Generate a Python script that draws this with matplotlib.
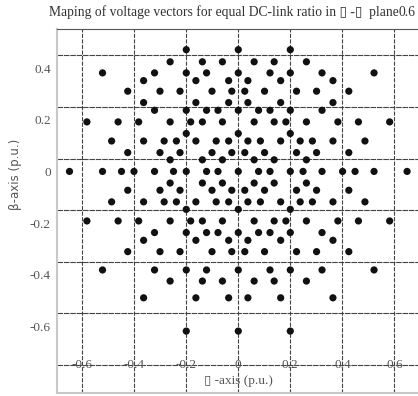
import matplotlib
matplotlib.use('Agg')
import matplotlib.pyplot as plt
import numpy as np

plt.rcParams['lines.scale_dashes'] = False

# beta level of each row of vectors (p.u.)
beta_levels = [0.472, 0.425, 0.382, 0.352, 0.311, 0.267, 0.237, 0.192, 0.147, 0.118, 0.073, 0.045, 0.0,
               -0.045, -0.073, -0.118, -0.147, -0.192, -0.237, -0.267, -0.311, -0.382, -0.425, -0.490, -0.619]

# alpha positions of the vectors on each row (p.u.)
alpha_rows = [
    [-0.200, 0.0, 0.200],
    [-0.262, -0.138, -0.061, 0.061, 0.138, 0.262],
    [-0.522, -0.322, -0.200, -0.122, 0.0, 0.122, 0.200, 0.322, 0.522],
    [-0.364, -0.163, -0.037, 0.037, 0.163, 0.364],
    [-0.425, -0.301, -0.224, -0.101, -0.025, 0.025, 0.101, 0.224, 0.301, 0.425],
    [-0.364, -0.163, -0.037, 0.037, 0.163, 0.364],
    [-0.322, -0.200, -0.122, -0.078, 0.0, 0.078, 0.122, 0.200, 0.322],
    [-0.582, -0.462, -0.383, -0.262, -0.183, -0.138, -0.061, 0.061, 0.138, 0.183, 0.262, 0.383, 0.462, 0.582],
    [-0.200, 0.0, 0.200],
    [-0.487, -0.364, -0.285, -0.238, -0.163, -0.085, -0.037, 0.037, 0.085, 0.163, 0.238, 0.285, 0.364, 0.487],
    [-0.425, -0.301, -0.224, -0.101, -0.025, 0.025, 0.101, 0.224, 0.301, 0.425],
    [-0.262, -0.138, -0.061, 0.061, 0.138, 0.262],
    [-0.649, -0.522, -0.449, -0.401, -0.322, -0.249, -0.200, -0.122, -0.078, 0.0,
     0.078, 0.122, 0.200, 0.249, 0.322, 0.401, 0.449, 0.522, 0.649],
    [-0.262, -0.138, -0.061, 0.061, 0.138, 0.262],
    [-0.425, -0.301, -0.224, -0.101, -0.025, 0.025, 0.101, 0.224, 0.301, 0.425],
    [-0.487, -0.364, -0.285, -0.238, -0.163, -0.085, -0.037, 0.037, 0.085, 0.163, 0.238, 0.285, 0.364, 0.487],
    [-0.200, 0.0, 0.200],
    [-0.582, -0.462, -0.383, -0.262, -0.183, -0.138, -0.061, 0.061, 0.138, 0.183, 0.262, 0.383, 0.462, 0.582],
    [-0.322, -0.200, -0.122, -0.078, 0.0, 0.078, 0.122, 0.200, 0.322],
    [-0.364, -0.163, -0.037, 0.037, 0.163, 0.364],
    [-0.425, -0.301, -0.224, -0.101, -0.025, 0.025, 0.101, 0.224, 0.301, 0.425],
    [-0.522, -0.322, -0.200, -0.122, 0.0, 0.122, 0.200, 0.322, 0.522],
    [-0.262, -0.138, -0.061, 0.061, 0.138, 0.262],
    [-0.364, -0.163, -0.037, 0.037, 0.163, 0.364],
    [-0.200, 0.0, 0.200],
]

x_ticks = [-0.6, -0.4, -0.2, 0, 0.2, 0.4, 0.6]
x_tick_labels = ['-0.6', '-0.4', '-0.2', '0', '0.2', '0.4', '0.6']
y_ticks = [0.4, 0.2, 0, -0.2, -0.4, -0.6]
y_tick_labels = ['0.4', '0.2', '0', '-0.2', '-0.4', '-0.6']
grid_y = [0.45, 0.25, 0.05, -0.15, -0.35, -0.55, -0.75]

alpha = []
beta = []
for b, row in zip(beta_levels, alpha_rows):
    for a in row:
        alpha.append(a)
        beta.append(b)

serif = ['Liberation Serif', 'DejaVu Sans']
txt_col = '#555555'

fig = plt.figure(figsize=(4.18, 3.96), dpi=100)
ax = fig.add_axes([57 / 418, 3 / 396, 361 / 418, 363.7 / 396])
ax.set_xlim(-0.697, 0.691)
ax.set_ylim(-0.859, 0.551)

# grid
for xv in x_ticks:
    ax.axvline(xv, color='#444444', lw=0.8, dashes=(3.0, 1.0), zorder=1)
for yv in grid_y:
    ax.axhline(yv, color='#444444', lw=0.8, dashes=(4.0, 0.6), zorder=1)

ax.scatter(alpha, beta, s=27, c='#111111', edgecolors='none', zorder=3)

ax.spines['right'].set_visible(False)
ax.spines['top'].set_color('#555555')
ax.spines['top'].set_linewidth(0.8)
ax.spines['left'].set_color('#c8c8c8')
ax.spines['left'].set_linewidth(1.5)
ax.spines['bottom'].set_color('#c8c8c8')
ax.spines['bottom'].set_linewidth(1.5)

ax.set_xticks([])
ax.set_yticks(y_ticks)
ax.set_yticklabels(y_tick_labels, family=serif, fontsize=9.5, color=txt_col)
ax.tick_params(axis='y', length=0, pad=4.5)

# x tick labels sit inside the box on the lowest grid line
for xv, lab in zip(x_ticks, x_tick_labels):
    ax.text(xv, -0.75, lab, ha='center', va='center', family=serif,
            fontsize=9.5, color=txt_col, zorder=2)

fig.text(238 / 418, 1 - 381 / 396, '\u25af -axis (p.u.)', ha='center', va='center',
         family=serif, fontsize=9.5, color=txt_col)
fig.text(15 / 418, 1 - 174 / 396, '\u03b2-axis (p.u.)', ha='center', va='center',
         rotation=90, fontsize=8.5, color=txt_col)
fig.text(224 / 418, 1 - 12 / 396,
         'Maping of voltage vectors for equal DC-link ratio in \u25af -\u25af  plane',
         ha='center', va='center', family=serif, fontsize=9.8, color='#333333')
fig.text(407 / 418, 1 - 12 / 396, '0.6', ha='center', va='center',
         family=serif, fontsize=9.8, color='#333333')

fig.savefig('out.png', dpi=100)
